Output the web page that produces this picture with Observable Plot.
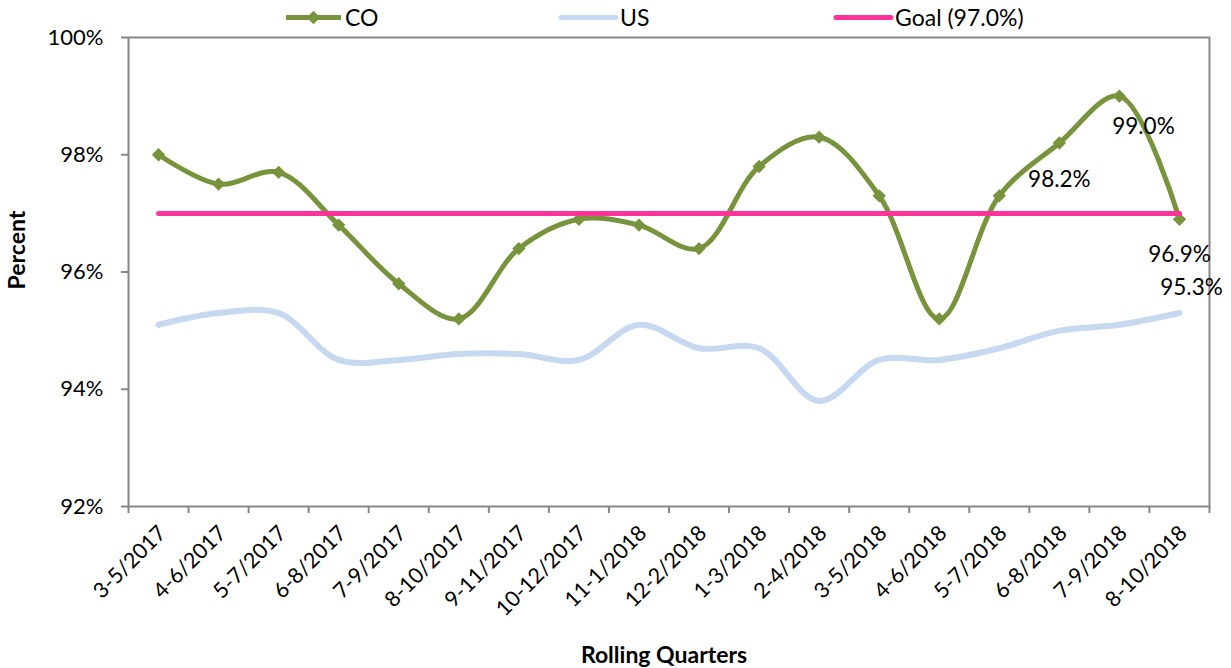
<!DOCTYPE html>
<html>
<head>
<meta charset="utf-8">
<script src="https://cdn.jsdelivr.net/npm/d3@7"></script>
<script src="https://cdn.jsdelivr.net/npm/@observablehq/plot@0.6"></script>
<style>
  html, body { margin: 0; padding: 0; background: #fff; }
  #chart svg { display: block; font-family: Lato, "Open Sans", sans-serif; }
</style>
</head>
<body>
<div id="chart"></div>
<script>
// ---- data ----
const categories = ["3-5/2017","4-6/2017","5-7/2017","6-8/2017","7-9/2017","8-10/2017","9-11/2017","10-12/2017","11-1/2018","12-2/2018","1-3/2018","2-4/2018","3-5/2018","4-6/2018","5-7/2018","6-8/2018","7-9/2018","8-10/2018"];
const coValues = [98.0, 97.5, 97.7, 96.8, 95.8, 95.2, 96.4, 96.9, 96.8, 96.4, 97.8, 98.3, 97.3, 95.2, 97.3, 98.2, 99.0, 96.9];
const usValues = [95.1, 95.3, 95.3, 94.5, 94.5, 94.6, 94.6, 94.5, 95.1, 94.7, 94.7, 93.8, 94.5, 94.5, 94.7, 95.0, 95.1, 95.3];
const goalValue = 97.0;
const yTicks = [92, 94, 96, 98, 100];
const seriesNames = ["CO", "US", "Goal (97.0%)"];
const seriesColors = ["#77933c", "#c6d9f1", "#ff3399"];

const idx = categories.map((_, i) => i);
const boundaries = d3.range(categories.length + 1).map(i => i - 0.5);
const pct = v => v.toFixed(1) + "%";
const axisGray = "#878787";

const plot = Plot.plot({
  width: 1231,
  height: 668,
  marginLeft: 128,
  marginRight: 22,
  marginTop: 37,
  marginBottom: 162,
  x: { type: "linear", domain: [-0.5, categories.length - 0.5] },
  y: { domain: [92, 100] },
  marks: [
    // y axis ticks + labels
    Plot.axisY(yTicks, { tickSize: 7, tickPadding: 18, tickFormat: d => d + "%", stroke: axisGray, strokeWidth: 2, fill: "#000", fontSize: 22, label: null }),
    // x boundary ticks
    Plot.axisX(boundaries, { tickSize: 7, tickFormat: () => "", stroke: axisGray, strokeWidth: 2, label: null }),
    // x category labels
    Plot.text(idx, { x: i => i, frameAnchor: "bottom", text: i => categories[i], rotate: -45, textAnchor: "end", lineAnchor: "middle", dx: 4, dy: 23, fontSize: 21.5, fill: "#000" }),
    // axis titles
    Plot.text(["Percent"], { frameAnchor: "left", textAnchor: "middle", dx: -111, dy: -22, rotate: -90, fontWeight: "bold", fontSize: 23, fill: "#000" }),
    Plot.text(["Rolling Quarters"], { frameAnchor: "bottom", textAnchor: "middle", dx: -5, dy: 156, fontWeight: "bold", fontSize: 23, fill: "#000" }),
    // frame
    Plot.frame({ stroke: axisGray, strokeWidth: 2 }),
    // US
    Plot.line(idx, { x: i => i, y: i => usValues[i], stroke: seriesColors[1], strokeWidth: 6, curve: "catmull-rom", strokeLinecap: "round" }),
    // CO
    Plot.line(idx, { x: i => i, y: i => coValues[i], stroke: seriesColors[0], strokeWidth: 5, curve: "catmull-rom" }),
    Plot.dot(idx, { x: i => i, y: i => coValues[i], symbol: "diamond2", r: 6, fill: seriesColors[0], stroke: "none" }),
    // Goal
    Plot.line(idx, { x: i => i, y: () => goalValue, stroke: seriesColors[2], strokeWidth: 5, strokeLinecap: "round" }),
    // data labels
    Plot.text([15], { x: i => i, y: i => coValues[i], text: i => pct(coValues[i]), dy: 37, fontSize: 22.5, fill: "#000" }),
    Plot.text([16], { x: i => i, y: i => coValues[i], text: i => pct(coValues[i]), dx: 24, dy: 31, fontSize: 22.5, fill: "#000" }),
    Plot.text([17], { x: i => i, y: i => coValues[i], text: i => pct(coValues[i]), dy: 36, fontSize: 22.5, fill: "#000" }),
    Plot.text([17], { x: i => i, y: i => usValues[i], text: i => pct(usValues[i]), dx: 12, dy: -25, fontSize: 22.5, fill: "#000" })
  ]
});

document.getElementById("chart").appendChild(plot);

// ---- legend (top, inside svg) ----
const svg = d3.select(plot);
const legend = svg.append("g").attr("class", "legend");
const legendX = [286, 561, 836];
const legendY = 17.5;
seriesNames.forEach((name, k) => {
  const x0 = legendX[k];
  const g = legend.append("g");
  g.append("line")
    .attr("x1", x0).attr("x2", x0 + 55)
    .attr("y1", legendY).attr("y2", legendY)
    .attr("stroke", seriesColors[k])
    .attr("stroke-width", 5)
    .attr("stroke-linecap", k === 0 ? "butt" : "round");
  if (k === 0) {
    g.append("path")
      .attr("d", d3.symbol(d3.symbolDiamond2, Math.PI * 6 * 6)())
      .attr("transform", `translate(${x0 + 27.5},${legendY})`)
      .attr("fill", seriesColors[0]);
  }
  g.append("text")
    .attr("x", x0 + 59).attr("y", legendY)
    .attr("dy", "0.36em")
    .attr("text-anchor", "start")
    .attr("font-size", 23)
    .attr("fill", "#000")
    .text(name);
});
</script>
</body>
</html>
